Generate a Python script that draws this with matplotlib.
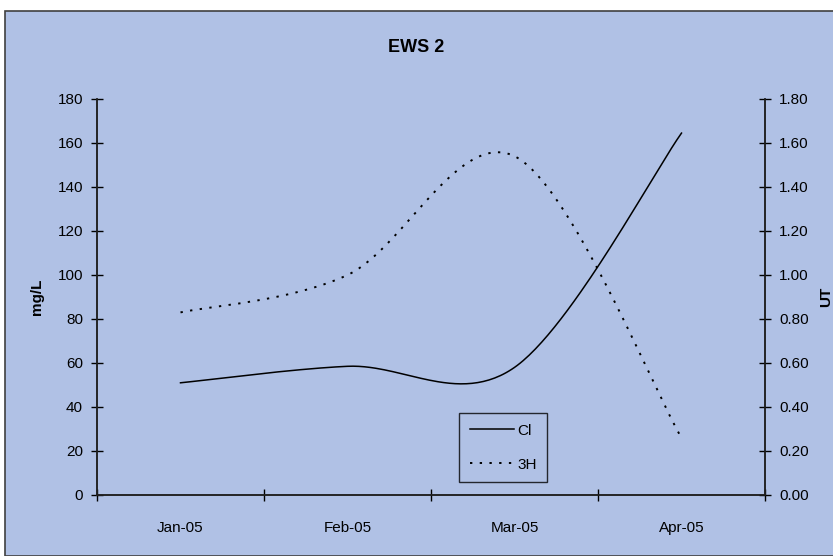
import numpy as np
import matplotlib.pyplot as plt
from matplotlib.patches import Rectangle
from matplotlib.ticker import FormatStrFormatter

# data
months = ['Jan-05', 'Feb-05', 'Mar-05', 'Apr-05']
cl_mgL = [51, 58.5, 58, 164.5]
h3_UT = [0.83, 1.0, 1.54, 0.26]

plt.rcParams['font.family'] = ['Liberation Sans Narrow', 'Liberation Sans', 'DejaVu Sans']

BG = '#b0c1e5'


# Excel-like smoothed line: cubic Bezier pieces with Catmull-Rom tangents
def smooth(xs, ys, n=60):
    xs = np.asarray(xs, float)
    ys = np.asarray(ys, float)
    px = np.concatenate([[xs[0]], xs, [xs[-1]]])
    py = np.concatenate([[ys[0]], ys, [ys[-1]]])
    outx, outy = [], []
    t = np.linspace(0, 1, n)
    for i in range(len(xs) - 1):
        x0, x3 = xs[i], xs[i + 1]
        y0, y3 = ys[i], ys[i + 1]
        x1 = x0 + (px[i + 2] - px[i]) / 6
        y1 = y0 + (py[i + 2] - py[i]) / 6
        x2 = x3 - (px[i + 3] - px[i + 1]) / 6
        y2 = y3 - (py[i + 3] - py[i + 1]) / 6
        bx = (1-t)**3*x0 + 3*(1-t)**2*t*x1 + 3*(1-t)*t**2*x2 + t**3*x3
        by = (1-t)**3*y0 + 3*(1-t)**2*t*y1 + 3*(1-t)*t**2*y2 + t**3*y3
        outx.extend(bx)
        outy.extend(by)
    return np.array(outx), np.array(outy)


fig = plt.figure(figsize=(8.33, 5.56), dpi=100)
fig.patches.append(Rectangle((5/833, 0), 1, 1 - 11/556, transform=fig.transFigure,
                             facecolor=BG, edgecolor='#404040', linewidth=1.2, zorder=-1))

ax = fig.add_axes([97/833, 1 - 495/556, (765 - 97)/833, (495 - 99)/556])
ax.set_facecolor('none')
ax2 = ax.twinx()

x = np.arange(len(months))
sx, sy = smooth(x, cl_mgL)
l1, = ax.plot(sx, sy, color='black', linewidth=1.1, label='Cl')
sx2, sy2 = smooth(x, h3_UT)
l2, = ax2.plot(sx2, sy2, color='black', linewidth=1.4, linestyle=(0, (1.2, 3.8)), label='3H')

ax.set_xlim(-0.5, len(months) - 0.5)
ax.set_ylim(0, 180)
ax2.set_ylim(0, 1.8)
ax.set_yticks(np.arange(0, 181, 20))
ax2.set_yticks(np.arange(0, 1.81, 0.2))
ax2.yaxis.set_major_formatter(FormatStrFormatter('%.2f'))

ax.set_xticks(np.arange(-0.5, len(months), 1.0))
ax.set_xticklabels([])
ax.set_xticks(x, minor=True)
ax.set_xticklabels(months, minor=True)
ax.tick_params(axis='x', which='minor', length=0, pad=19, labelsize=11)
ax.tick_params(axis='x', which='major', direction='inout', length=8, width=1)
ax.tick_params(axis='y', direction='inout', length=8, width=1, pad=6, labelsize=11)
ax2.tick_params(axis='y', direction='inout', length=8, width=1, pad=6, labelsize=11)

for a in (ax, ax2):
    a.spines['top'].set_visible(False)
    for s in ('left', 'right', 'bottom'):
        a.spines[s].set_linewidth(1.1)
        a.spines[s].set_color('#202020')

ax.set_ylabel('mg/L', fontsize=11, fontweight='bold', labelpad=10)
ax2.set_ylabel('UT', fontsize=11, fontweight='bold', labelpad=8)
fig.text(0.5, 1 - 48/556, 'EWS 2', ha='center', va='center', fontsize=13, fontweight='bold')

leg = ax2.legend([l1, l2], ['Cl', '3H'], loc='upper left',
                 bbox_to_anchor=((459 - 97)/668, (495 - 413)/396),
                 frameon=True, fancybox=False, fontsize=11, handlelength=2.9,
                 handletextpad=0.2, borderpad=0.7, labelspacing=1.3, borderaxespad=0)
leg.get_frame().set_edgecolor('black')
leg.get_frame().set_facecolor(BG)
leg.get_frame().set_linewidth(1.0)

fig.savefig('out.png', dpi=100, facecolor='white')
